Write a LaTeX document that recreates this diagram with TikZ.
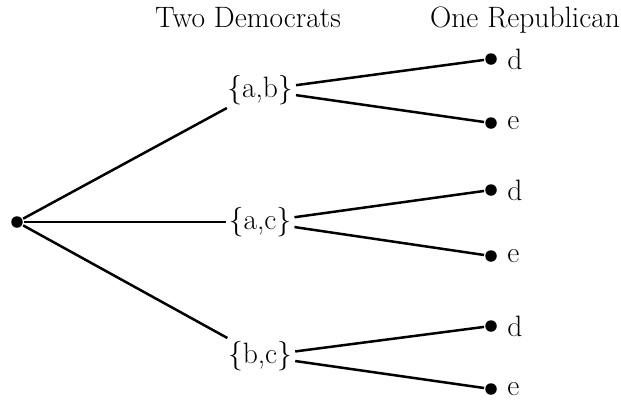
\documentclass[tikz,border=0pt]{standalone}
\begin{document}
\begin{tikzpicture}[x=1pt,y=-1pt,line width=2.5pt,
  every node/.style={font=\fontsize{29.5}{35}\selectfont},
  dot/.style={circle,fill,inner sep=0pt,minimum size=11.5pt},
  setnode/.style={inner sep=2pt},
  leaf/.style={dot,label={[label distance=7pt,inner sep=1pt]right:#1}}]
\useasboundingbox (0,0) rectangle (621,400);
\node[anchor=base] (h1) at (248,27) {Two Democrats};
\node[anchor=base] (h2) at (525,27) {One Republican};
\node[dot] (r) at (17,222) {};
\node[setnode] (ab) at (260,90) {\{a,b\}};
\node[setnode] (ac) at (260,222) {\{a,c\}};
\node[setnode] (bc) at (260,356) {\{b,c\}};
\node[leaf=d] (abd) at (491,59) {};
\node[leaf=e] (abe) at (491,123) {};
\node[leaf=d] (acd) at (491,190) {};
\node[leaf=e] (ace) at (491,256) {};
\node[leaf=d] (bcd) at (491,326) {};
\node[leaf=e] (bce) at (491,389) {};
\draw (r) -- (ab);
\draw (r) -- (ac);
\draw (r) -- (bc);
\draw (ab) -- (abd);
\draw (ab) -- (abe);
\draw (ac) -- (acd);
\draw (ac) -- (ace);
\draw (bc) -- (bcd);
\draw (bc) -- (bce);
\end{tikzpicture}
\end{document}
